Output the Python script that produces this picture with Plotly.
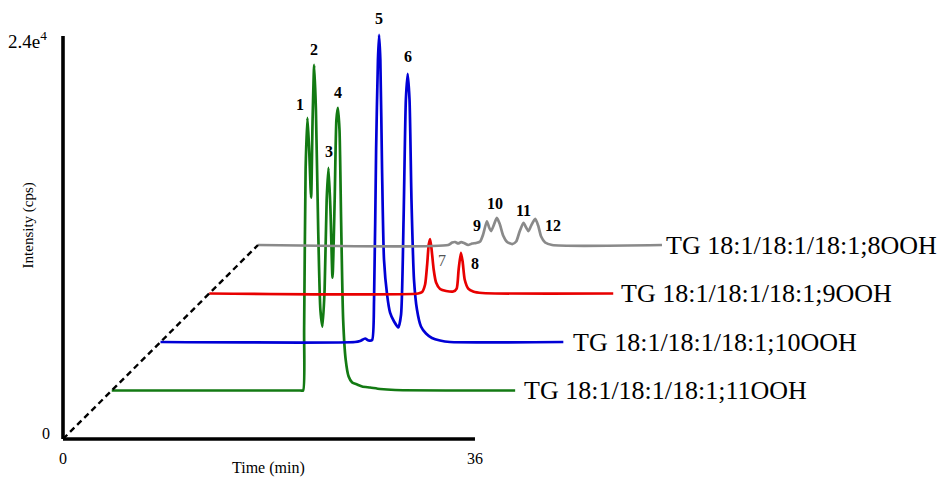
import plotly.graph_objects as go

# ---------------- data ----------------
# Each chromatogram: local retention time (min) and intensity (cps)
series_names = ["TG 18:1/18:1/18:1;11OOH", "TG 18:1/18:1/18:1;10OOH",
                "TG 18:1/18:1/18:1;9OOH", "TG 18:1/18:1/18:1;8OOH"]

t_11ooh = [0.0, 16.46, 16.72, 16.81, 16.94, 17.10, 17.25, 17.42, 17.55, 17.69, 17.84,
           18.04, 18.23, 18.41, 18.60, 18.78, 18.94, 19.11, 19.29, 19.48, 19.63, 19.76,
           19.90, 20.04, 20.22, 20.44, 20.70, 21.01, 21.44, 21.88, 22.58, 23.45, 24.76, 35.25]
i_11ooh = [0, 0, 0, 3629, 13147, 16240, 14336, 11481, 16121, 19393, 16716,
           9578, 4819, 3807, 6008, 11362, 13266, 10767, 6722, 11362, 16121, 16835,
           15527, 10172, 4224, 1844, 833, 476, 357, 238, 178, 89, 30, 0]

t_10ooh = [0.0, 17.00, 17.44, 17.88, 18.18, 18.49, 18.66, 18.84, 19.00, 19.10, 19.21,
           19.36, 19.53, 19.80, 20.06, 20.41, 20.78, 21.02, 21.24, 21.44, 21.60, 21.76,
           21.93, 22.15, 22.41, 22.76, 23.20, 23.72, 24.42, 25.29, 35.20]
i_10ooh = [0, 0, 60, 208, 89, 119, 2528, 11451, 16805, 18292, 16805,
           10262, 4908, 2826, 1755, 1220, 863, 1636, 7287, 14426, 15973, 14426,
           8477, 3718, 1933, 922, 506, 238, 89, 0, 0]

t_9ooh = [0.0, 18.25, 18.60, 18.86, 19.04, 19.18, 19.30, 19.43, 19.61, 19.82, 20.17,
          20.70, 21.31, 21.62, 21.79, 21.99, 22.14, 22.32, 22.63, 23.06, 23.85, 35.30]
i_9ooh = [0, 0, 89, 535, 1725, 2915, 3242, 2618, 1428, 654, 268,
          149, 119, 297, 1428, 2422, 1904, 833, 297, 119, 30, 0]

t_8ooh = [0.0, 16.62, 16.97, 17.23, 17.49, 17.75, 18.01, 18.36, 18.71, 19.06, 19.41,
          19.67, 20.00, 20.20, 20.37, 20.59, 20.87, 21.11, 21.42, 21.77, 22.21, 22.56,
          22.86, 23.20, 23.43, 23.63, 23.87, 24.22, 24.48, 24.74, 25.09, 25.70, 35.30]
i_8ooh = [0, 0, 149, 178, 89, 178, 119, 0, 89, 119, 208,
          625, 1416, 1041, 833, 1160, 1618, 1279, 565, 178, 59, 208,
          803, 1321, 1041, 833, 1160, 1559, 1160, 506, 149, 0, 0]

# peak numbers and the retention time of the peak they mark
peaks_11ooh = [("1", 17.10), ("2", 17.69), ("3", 18.94), ("4", 19.76)]
peaks_10ooh = [("5", 19.10), ("6", 21.60)]
peaks_9ooh = [("7", 19.30), ("8", 21.99)]
peaks_8ooh = [("9", 20.00), ("10", 20.87), ("11", 23.20), ("12", 24.22)]

x_tick_vals = [0, 36]
x_tick_text = ["0", "36"]
y_tick_vals = [0, 24000]
y_tick_text = ["0", "2.4e<sup>4</sup>"]
x_title = "Time (min)"
y_title = "Intensity (cps)"

# ---------------- styling ----------------
SERIF = "Liberation Serif, Times New Roman, serif"
colors = ["#137a13", "#0000d6", "#e80000", "#8a8a8a"]
step_dx = 4.26      # pseudo-3D horizontal shift per chromatogram (min)
step_dy = 2888      # pseudo-3D vertical shift per chromatogram (cps)

peak_style = {  # label: (xshift, yshift, bold, color)
    "1": (-7, 13, True, "black"), "2": (0, 15, True, "black"),
    "3": (0, 16, True, "black"), "4": (0, 15, True, "black"),
    "5": (0, 16, True, "black"), "6": (0, 17, True, "black"),
    "7": (12, -21, False, "#555555"), "8": (14, -11, True, "black"),
    "9": (-10, -4, True, "black"), "10": (-2, 14, True, "black"),
    "11": (0, 12, True, "black"), "12": (18, -7, True, "black"),
}
label_shift = [7, 8, 6, 2]

series = [(t_11ooh, i_11ooh, peaks_11ooh), (t_10ooh, i_10ooh, peaks_10ooh),
          (t_9ooh, i_9ooh, peaks_9ooh), (t_8ooh, i_8ooh, peaks_8ooh)]

fig = go.Figure()
annotations = []

for k, ((t, inten, peaks), name, col) in enumerate(zip(series, series_names, colors), start=1):
    ox, oy = k * step_dx, k * step_dy
    xs = [v + ox for v in t]
    ys = [v + oy for v in inten]
    fig.add_trace(go.Scatter(x=xs, y=ys, mode="lines", name=name,
                             line=dict(color=col, width=2.7, shape="spline", smoothing=0.6),
                             showlegend=False, hoverinfo="skip"))
    annotations.append(dict(x=xs[-1], y=ys[-1], xref="x", yref="y", text=name,
                            showarrow=False, xanchor="left", yanchor="middle",
                            xshift=label_shift[k - 1],
                            font=dict(family=SERIF, size=26, color="black")))
    for lab, pt in peaks:
        j = min(range(len(t)), key=lambda q: abs(t[q] - pt))
        xs_, ys_, bold, lc = peak_style[lab]
        annotations.append(dict(x=xs[j], y=ys[j], xref="x", yref="y",
                                text=f"<b>{lab}</b>" if bold else lab,
                                showarrow=False, xanchor="center", yanchor="middle",
                                xshift=xs_, yshift=ys_,
                                font=dict(family=SERIF, size=16, color=lc)))

# dashed perspective line from the origin to the start of the back-most trace
fig.add_shape(type="line", x0=0, y0=0, x1=4 * step_dx, y1=4 * step_dy,
              xref="x", yref="y", line=dict(color="black", width=2.4, dash="6px,4px"))
# axis lines (only spanning the labelled range)
fig.add_shape(type="line", x0=0, y0=0, x1=x_tick_vals[-1], y1=0,
              xref="x", yref="y", line=dict(color="black", width=3.6))
fig.add_shape(type="line", x0=0, y0=0, x1=0, y1=y_tick_vals[-1],
              xref="x", yref="y", line=dict(color="black", width=3.6))

# y tick labels
for v, txt, dxs, dys, fs in zip(y_tick_vals, y_tick_text, [-11, -14], [6, -4], [16, 19]):
    annotations.append(dict(x=0, y=v, xref="x", yref="y", text=txt, showarrow=False,
                            xanchor="right", yanchor="middle", xshift=dxs, yshift=dys,
                            font=dict(family=SERIF, size=fs, color="black")))

# axis titles
annotations.append(dict(x=x_tick_vals[-1] / 2, y=0, xref="x", yref="y", text=x_title,
                        showarrow=False, xanchor="center", yanchor="middle", yshift=-29,
                        font=dict(family=SERIF, size=16, color="black")))
annotations.append(dict(x=0, y=y_tick_vals[-1] * 0.53, xref="x", yref="y", text=y_title,
                        showarrow=False, textangle=-90, xanchor="center", yanchor="middle",
                        xshift=-35, font=dict(family=SERIF, size=15, color="black")))

PX_X = 11.444     # pixels per minute
PX_Y = 0.016792   # pixels per cps
ML, MB = 50, 30
x0_px, y0_px = 63, 439
fig.update_layout(
    width=939, height=479,
    margin=dict(l=ML, r=0, t=0, b=MB, pad=0),
    paper_bgcolor="white", plot_bgcolor="white",
    annotations=annotations,
    xaxis=dict(range=[-(x0_px - ML) / PX_X, (939 - x0_px) / PX_X],
               tickvals=x_tick_vals, ticktext=x_tick_text, showgrid=False, zeroline=False,
               showline=False, ticks="", ticklabelstandoff=-2,
               tickfont=dict(family=SERIF, size=16, color="black")),
    yaxis=dict(range=[-(479 - MB - y0_px) / PX_Y, y0_px / PX_Y],
               showticklabels=False, showgrid=False, zeroline=False, showline=False, ticks=""),
)

fig.write_html("out.html", config={"displayModeBar": False},
               post_script="document.body.style.margin='0';document.body.style.overflow='hidden';")
